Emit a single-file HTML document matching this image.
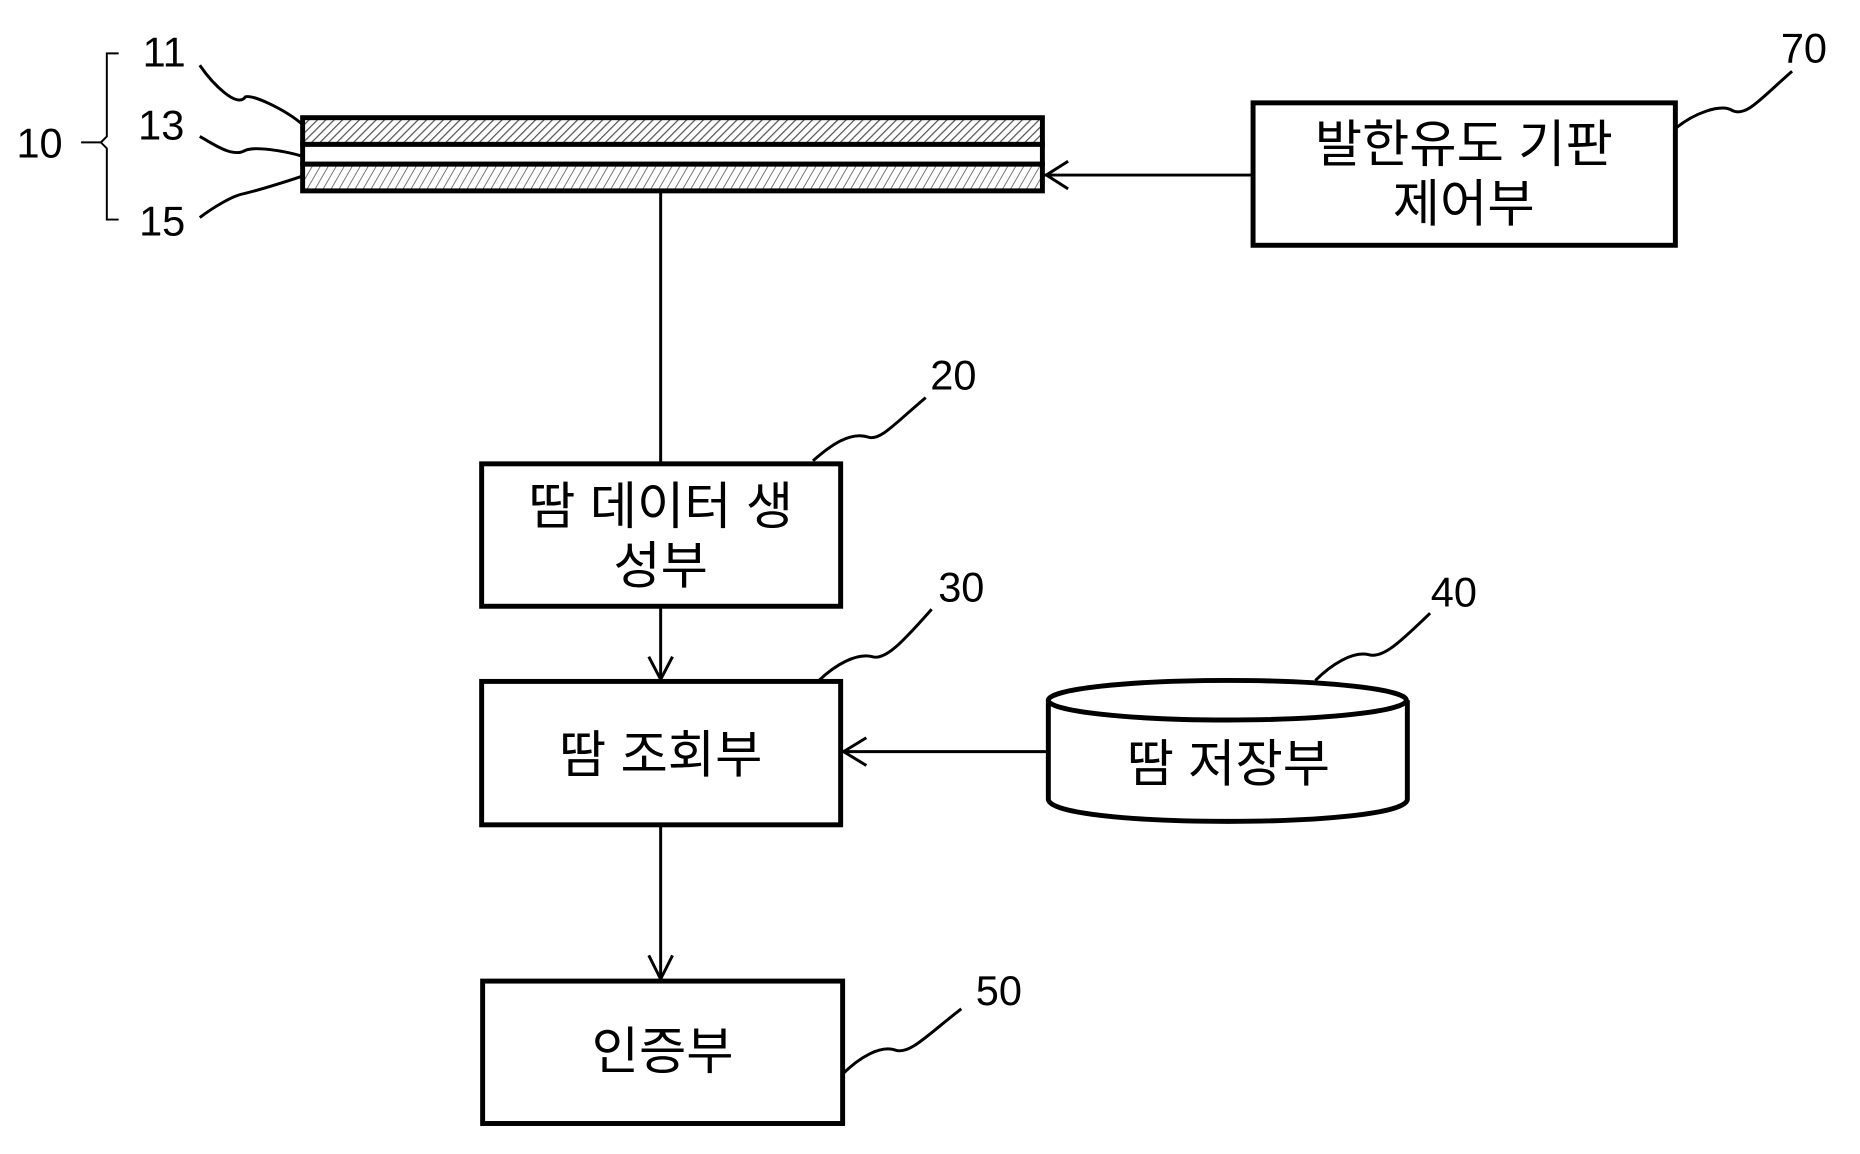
<!DOCTYPE html>
<html><head><meta charset="utf-8"><style>
html,body{margin:0;padding:0;background:#fff;}
svg{display:block;}
text{font-family:"Liberation Sans","Noto Sans CJK KR","NanumGothic",sans-serif;fill:#000;}
</style></head><body>
<svg width="1860" height="1154" viewBox="0 0 1860 1154" xmlns="http://www.w3.org/2000/svg">
<defs>
<pattern id="h1" width="6" height="6" patternUnits="userSpaceOnUse" patternTransform="rotate(45)">
<rect width="6" height="6" fill="#fff"/><line x1="0" y1="0" x2="0" y2="6" stroke="#555" stroke-width="2.5"/></pattern>
<pattern id="h2" width="7" height="7" patternUnits="userSpaceOnUse" patternTransform="rotate(30)">
<rect width="7" height="7" fill="#fff"/><line x1="0" y1="0" x2="0" y2="7" stroke="#777" stroke-width="2"/></pattern>
</defs>
<rect width="1860" height="1154" fill="#fff"/>
<g transform="scale(0.989)">
<g stroke="#000" fill="none">
<rect x="306" y="119" width="748" height="27" fill="url(#h1)" stroke-width="5"/>
<rect x="306" y="146" width="748" height="20" fill="#fff" stroke-width="5"/>
<rect x="306" y="166" width="748" height="27" fill="url(#h2)" stroke-width="5"/>
<path d="M120 54 H108 V138 L102 144 L108 150 V222 H120" stroke-width="2"/>
<line x1="82" y1="144" x2="102" y2="144" stroke-width="2"/>
<path d="M202 66 C215 85 240 110 248 98 C256 95 290 112 306 126" stroke-width="3"/>
<path d="M202 138 C215 145 235 160 248 152 C258 148 285 152 306 158" stroke-width="3"/>
<path d="M202 220 C215 210 235 198 246 196 C258 193 285 185 306 178" stroke-width="3"/>
<path d="M1694 130 C1712 115 1740 104 1752 112 C1766 118 1780 100 1812 72" stroke-width="3"/>
<path d="M822 466 C840 450 860 436 878 442 C890 446 905 428 936 402" stroke-width="3"/>
<path d="M828 688 C845 672 866 660 882 664 C895 668 912 650 942 616" stroke-width="3"/>
<path d="M1330 688 C1346 672 1368 658 1384 662 C1398 666 1415 650 1446 620" stroke-width="3"/>
<path d="M852 1086 C868 1070 890 1056 906 1062 C920 1066 936 1048 972 1020" stroke-width="3"/>
<rect x="1267" y="104" width="427" height="144" stroke-width="5"/>
<rect x="487" y="469" width="363" height="144" stroke-width="5"/>
<rect x="487" y="689" width="363" height="145" stroke-width="5"/>
<rect x="488" y="992" width="364" height="144" stroke-width="5"/>
<path d="M1060 708 V808 C1060 838 1423 838 1423 808 V708" stroke-width="5" fill="#fff"/>
<ellipse cx="1241" cy="708" rx="181" ry="20" stroke-width="5" fill="#fff"/>
<line x1="668" y1="194" x2="668" y2="469" stroke-width="3"/>
<line x1="1267" y1="177" x2="1056" y2="177" stroke-width="3"/>
<path d="M1080 163 L1058 177 L1080 191" stroke-width="3"/>
<line x1="668" y1="613" x2="668" y2="687" stroke-width="3"/>
<path d="M656 664 L668 687 L680 664" stroke-width="3"/>
<line x1="1060" y1="760" x2="852" y2="760" stroke-width="3"/>
<path d="M876 746 L853 760 L876 774" stroke-width="3"/>
<line x1="668" y1="834" x2="668" y2="990" stroke-width="3"/>
<path d="M656 966 L668 990 L680 966" stroke-width="3"/>
</g>
<g font-size="42">
<text x="166" y="67" text-anchor="middle">11</text>
<text x="163" y="141" text-anchor="middle">13</text>
<text x="40" y="159" text-anchor="middle">10</text>
<text x="164" y="238" text-anchor="middle">15</text>
<text x="1824" y="63" text-anchor="middle">70</text>
<text x="964" y="394" text-anchor="middle">20</text>
<text x="972" y="608" text-anchor="middle">30</text>
<text x="1470" y="613" text-anchor="middle">40</text>
<text x="1010" y="1016" text-anchor="middle">50</text>
</g>
<g font-size="52" text-anchor="middle">
<text x="1480" y="164">발한유도 기판</text>
<text x="1480" y="224">제어부</text>
<text x="668" y="530">땀 데이터 생</text>
<text x="668" y="590">성부</text>
<text x="668" y="781">땀 조회부</text>
<text x="1242" y="790">땀 저장부</text>
<text x="670" y="1081">인증부</text>
</g>
</g>
</svg>
</body></html>
